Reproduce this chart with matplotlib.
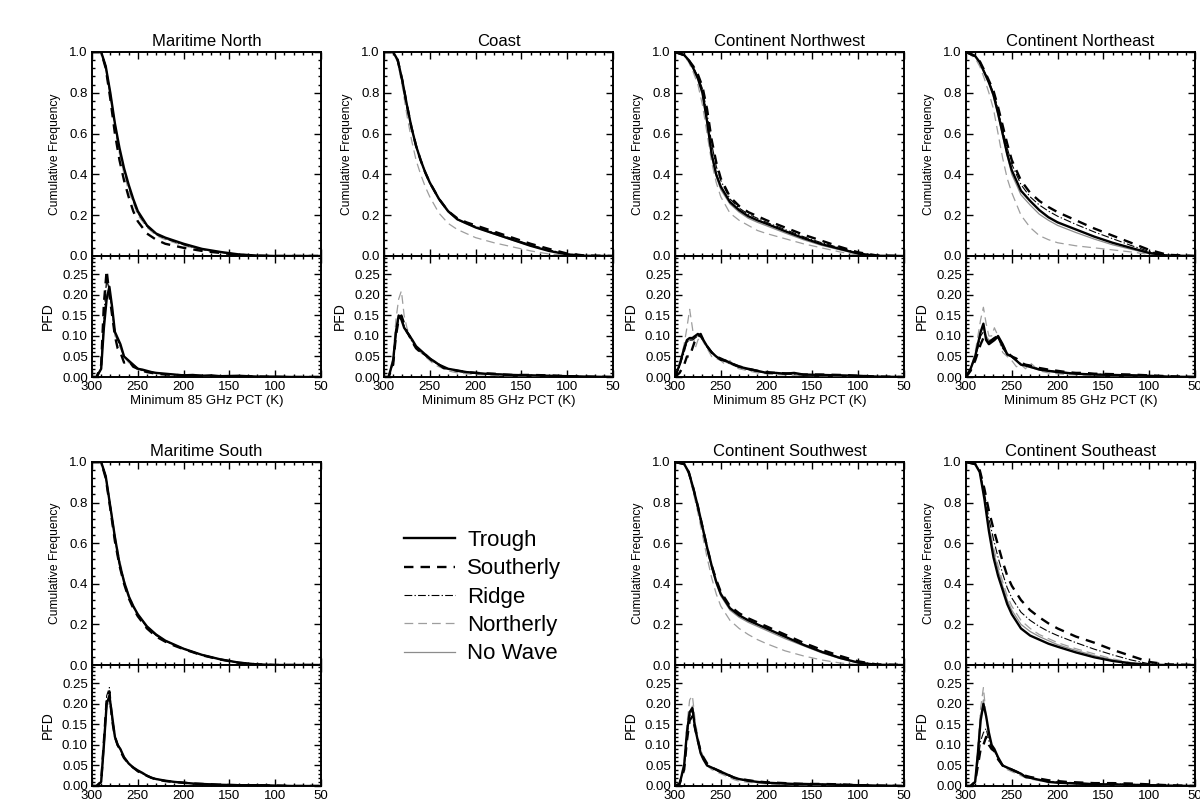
import numpy as np
import matplotlib.pyplot as plt
from matplotlib.ticker import MultipleLocator, FormatStrFormatter
from matplotlib.lines import Line2D

plt.rcParams['font.family'] = ['Liberation Sans', 'DejaVu Sans']

series_names = ["Trough", "Southerly", "Ridge", "Northerly", "No Wave"]

# temperature grids (K) for the cumulative and frequency curves
cdf_temp = [300, 290, 285, 280, 275, 270, 265, 260, 255, 250, 240, 230,
            220, 210, 200, 180, 160, 140, 120, 100, 80, 50]
pfd_temp = [300, 295, 290, 287, 284, 281, 278, 275, 272, 269, 265, 260,
            255, 250, 245, 240, 235, 230, 220, 210, 200, 190, 180, 170,
            160, 140, 120, 100, 80, 50]

# order of rows: Trough, Southerly, Ridge, Northerly, No Wave
cdf_maritime_north = [
    [1, 1, 0.93, 0.80, 0.65, 0.53, 0.43, 0.35, 0.28, 0.22, 0.15, 0.11, 0.09, 0.075, 0.06, 0.035, 0.02, 0.008, 0.002, 0, 0, 0],
    [1, 1, 0.92, 0.77, 0.60, 0.47, 0.37, 0.29, 0.22, 0.17, 0.11, 0.08, 0.06, 0.05, 0.04, 0.025, 0.015, 0.006, 0.001, 0, 0, 0],
    [1, 1, 0.93, 0.79, 0.64, 0.52, 0.42, 0.34, 0.27, 0.21, 0.145, 0.105, 0.085, 0.07, 0.055, 0.032, 0.018, 0.007, 0.002, 0, 0, 0],
    [1, 1, 0.92, 0.78, 0.62, 0.50, 0.40, 0.32, 0.26, 0.20, 0.14, 0.10, 0.08, 0.065, 0.05, 0.03, 0.016, 0.006, 0.001, 0, 0, 0],
    [1, 1, 0.93, 0.80, 0.65, 0.52, 0.42, 0.34, 0.27, 0.21, 0.15, 0.11, 0.085, 0.07, 0.055, 0.032, 0.018, 0.007, 0.002, 0, 0, 0],
]
pfd_maritime_north = [
    [0, 0, 0.02, 0.12, 0.19, 0.22, 0.17, 0.11, 0.095, 0.08, 0.05, 0.04, 0.03, 0.02, 0.018, 0.015, 0.012, 0.01, 0.008, 0.006, 0.004, 0.005, 0.003, 0.004, 0.002, 0.003, 0.001, 0.001, 0, 0],
    [0, 0, 0.03, 0.18, 0.26, 0.20, 0.15, 0.10, 0.07, 0.06, 0.035, 0.04, 0.025, 0.02, 0.015, 0.012, 0.01, 0.008, 0.006, 0.005, 0.004, 0.003, 0.003, 0.002, 0.002, 0.002, 0.001, 0, 0, 0],
    [0, 0, 0.02, 0.15, 0.24, 0.21, 0.16, 0.11, 0.09, 0.075, 0.05, 0.04, 0.028, 0.02, 0.016, 0.014, 0.012, 0.01, 0.007, 0.006, 0.005, 0.004, 0.003, 0.003, 0.002, 0.002, 0.001, 0.001, 0, 0],
    [0, 0, 0.015, 0.13, 0.23, 0.22, 0.16, 0.10, 0.09, 0.07, 0.05, 0.035, 0.03, 0.022, 0.015, 0.012, 0.01, 0.01, 0.007, 0.005, 0.004, 0.004, 0.002, 0.003, 0.002, 0.002, 0.001, 0, 0, 0],
    [0, 0, 0.02, 0.14, 0.20, 0.21, 0.17, 0.11, 0.09, 0.08, 0.05, 0.04, 0.03, 0.021, 0.017, 0.014, 0.012, 0.01, 0.008, 0.006, 0.005, 0.004, 0.003, 0.003, 0.002, 0.002, 0.001, 0.001, 0, 0],
]

cdf_coast = [
    [1, 1, 0.96, 0.86, 0.74, 0.63, 0.54, 0.47, 0.41, 0.36, 0.28, 0.22, 0.18, 0.16, 0.14, 0.11, 0.08, 0.05, 0.025, 0.008, 0.001, 0],
    [1, 1, 0.96, 0.86, 0.74, 0.63, 0.54, 0.47, 0.41, 0.36, 0.28, 0.22, 0.185, 0.165, 0.15, 0.12, 0.09, 0.06, 0.035, 0.012, 0.002, 0],
    [1, 1, 0.96, 0.86, 0.74, 0.63, 0.54, 0.47, 0.41, 0.36, 0.28, 0.22, 0.18, 0.16, 0.145, 0.115, 0.085, 0.055, 0.03, 0.01, 0.001, 0],
    [1, 1, 0.95, 0.83, 0.69, 0.57, 0.47, 0.40, 0.34, 0.29, 0.21, 0.16, 0.13, 0.11, 0.09, 0.065, 0.045, 0.025, 0.01, 0.003, 0, 0],
    [1, 1, 0.96, 0.86, 0.74, 0.63, 0.54, 0.47, 0.41, 0.355, 0.275, 0.215, 0.178, 0.157, 0.14, 0.108, 0.078, 0.05, 0.025, 0.008, 0.001, 0],
]
pfd_coast = [
    [0, 0, 0.04, 0.11, 0.15, 0.14, 0.12, 0.11, 0.10, 0.09, 0.075, 0.065, 0.055, 0.045, 0.038, 0.03, 0.025, 0.02, 0.016, 0.012, 0.01, 0.008, 0.007, 0.006, 0.005, 0.004, 0.003, 0.002, 0.001, 0],
    [0, 0, 0.03, 0.10, 0.14, 0.15, 0.13, 0.11, 0.10, 0.085, 0.07, 0.06, 0.055, 0.045, 0.035, 0.03, 0.022, 0.02, 0.015, 0.012, 0.01, 0.009, 0.008, 0.006, 0.005, 0.005, 0.004, 0.002, 0.001, 0],
    [0, 0, 0.035, 0.10, 0.145, 0.14, 0.125, 0.11, 0.095, 0.085, 0.072, 0.06, 0.052, 0.043, 0.036, 0.03, 0.024, 0.02, 0.015, 0.012, 0.009, 0.008, 0.007, 0.006, 0.005, 0.004, 0.003, 0.002, 0.001, 0],
    [0, 0, 0.05, 0.14, 0.19, 0.21, 0.15, 0.12, 0.10, 0.09, 0.075, 0.06, 0.05, 0.04, 0.03, 0.025, 0.02, 0.015, 0.01, 0.008, 0.006, 0.005, 0.004, 0.003, 0.003, 0.002, 0.001, 0.001, 0, 0],
    [0, 0, 0.04, 0.11, 0.15, 0.145, 0.12, 0.11, 0.10, 0.088, 0.073, 0.063, 0.054, 0.044, 0.037, 0.03, 0.024, 0.02, 0.015, 0.012, 0.01, 0.008, 0.007, 0.006, 0.005, 0.004, 0.003, 0.002, 0.001, 0],
]

cdf_continent_nw = [
    [1, 0.985, 0.96, 0.92, 0.87, 0.80, 0.66, 0.50, 0.40, 0.34, 0.265, 0.225, 0.195, 0.175, 0.158, 0.122, 0.088, 0.058, 0.035, 0.012, 0.001, 0],
    [1, 0.985, 0.96, 0.93, 0.89, 0.83, 0.72, 0.57, 0.46, 0.38, 0.29, 0.245, 0.215, 0.195, 0.175, 0.14, 0.105, 0.075, 0.045, 0.018, 0.003, 0],
    [1, 0.985, 0.96, 0.925, 0.88, 0.82, 0.70, 0.55, 0.44, 0.37, 0.28, 0.235, 0.205, 0.185, 0.165, 0.13, 0.095, 0.065, 0.04, 0.015, 0.002, 0],
    [1, 0.98, 0.95, 0.90, 0.84, 0.74, 0.60, 0.46, 0.36, 0.29, 0.21, 0.175, 0.15, 0.125, 0.11, 0.085, 0.06, 0.04, 0.02, 0.004, 0, 0],
    [1, 0.985, 0.96, 0.92, 0.87, 0.79, 0.65, 0.49, 0.39, 0.325, 0.255, 0.215, 0.185, 0.165, 0.148, 0.113, 0.08, 0.052, 0.03, 0.01, 0.001, 0],
]
pfd_continent_nw = [
    [0, 0.03, 0.07, 0.09, 0.095, 0.095, 0.10, 0.105, 0.10, 0.09, 0.075, 0.06, 0.05, 0.042, 0.04, 0.035, 0.03, 0.025, 0.02, 0.015, 0.01, 0.01, 0.008, 0.01, 0.006, 0.005, 0.004, 0.003, 0.001, 0],
    [0, 0.01, 0.03, 0.05, 0.05, 0.07, 0.09, 0.10, 0.105, 0.09, 0.075, 0.06, 0.05, 0.045, 0.04, 0.035, 0.03, 0.026, 0.02, 0.015, 0.012, 0.01, 0.009, 0.008, 0.006, 0.006, 0.005, 0.003, 0.001, 0],
    [0, 0.025, 0.06, 0.085, 0.09, 0.09, 0.095, 0.10, 0.098, 0.09, 0.075, 0.062, 0.05, 0.042, 0.038, 0.033, 0.028, 0.024, 0.018, 0.014, 0.01, 0.009, 0.008, 0.007, 0.006, 0.005, 0.004, 0.003, 0.001, 0],
    [0, 0.03, 0.08, 0.12, 0.165, 0.12, 0.07, 0.09, 0.10, 0.085, 0.07, 0.05, 0.045, 0.04, 0.03, 0.04, 0.025, 0.02, 0.015, 0.01, 0.008, 0.006, 0.005, 0.004, 0.004, 0.003, 0.002, 0.001, 0, 0],
    [0, 0.03, 0.065, 0.085, 0.09, 0.092, 0.098, 0.10, 0.097, 0.088, 0.074, 0.06, 0.05, 0.042, 0.037, 0.032, 0.027, 0.023, 0.018, 0.013, 0.01, 0.009, 0.007, 0.007, 0.005, 0.004, 0.003, 0.002, 0.001, 0],
]

cdf_continent_ne = [
    [1, 0.98, 0.95, 0.90, 0.85, 0.79, 0.70, 0.60, 0.50, 0.42, 0.32, 0.27, 0.225, 0.19, 0.165, 0.13, 0.095, 0.065, 0.04, 0.015, 0.002, 0],
    [1, 0.98, 0.955, 0.91, 0.86, 0.81, 0.73, 0.64, 0.55, 0.47, 0.37, 0.31, 0.27, 0.24, 0.215, 0.175, 0.135, 0.10, 0.065, 0.03, 0.006, 0],
    [1, 0.98, 0.95, 0.905, 0.855, 0.80, 0.72, 0.62, 0.53, 0.45, 0.35, 0.29, 0.25, 0.22, 0.195, 0.155, 0.118, 0.085, 0.052, 0.022, 0.004, 0],
    [1, 0.97, 0.93, 0.87, 0.80, 0.72, 0.60, 0.48, 0.38, 0.31, 0.20, 0.14, 0.10, 0.08, 0.065, 0.05, 0.04, 0.03, 0.02, 0.008, 0.001, 0],
    [1, 0.98, 0.95, 0.90, 0.85, 0.78, 0.69, 0.59, 0.49, 0.40, 0.30, 0.25, 0.205, 0.175, 0.15, 0.115, 0.083, 0.055, 0.033, 0.012, 0.001, 0],
]
pfd_continent_ne = [
    [0, 0.02, 0.05, 0.08, 0.11, 0.13, 0.09, 0.08, 0.085, 0.09, 0.10, 0.08, 0.055, 0.05, 0.04, 0.03, 0.028, 0.025, 0.018, 0.015, 0.012, 0.01, 0.008, 0.007, 0.006, 0.005, 0.004, 0.003, 0.001, 0],
    [0, 0.015, 0.04, 0.06, 0.08, 0.095, 0.09, 0.085, 0.09, 0.095, 0.10, 0.075, 0.06, 0.05, 0.045, 0.035, 0.03, 0.028, 0.022, 0.018, 0.015, 0.012, 0.01, 0.01, 0.008, 0.007, 0.006, 0.004, 0.002, 0],
    [0, 0.02, 0.05, 0.07, 0.10, 0.11, 0.095, 0.085, 0.09, 0.095, 0.095, 0.07, 0.055, 0.048, 0.04, 0.032, 0.028, 0.025, 0.02, 0.016, 0.013, 0.011, 0.009, 0.008, 0.007, 0.006, 0.005, 0.003, 0.001, 0],
    [0, 0.02, 0.06, 0.10, 0.14, 0.17, 0.13, 0.10, 0.10, 0.12, 0.10, 0.06, 0.05, 0.04, 0.025, 0.03, 0.02, 0.035, 0.015, 0.01, 0.008, 0.006, 0.005, 0.004, 0.004, 0.003, 0.003, 0.002, 0.001, 0],
    [0, 0.02, 0.05, 0.08, 0.11, 0.12, 0.10, 0.09, 0.09, 0.09, 0.095, 0.08, 0.058, 0.05, 0.04, 0.032, 0.027, 0.023, 0.018, 0.014, 0.011, 0.009, 0.008, 0.007, 0.006, 0.005, 0.004, 0.003, 0.001, 0],
]

cdf_maritime_south = [
    [1, 1, 0.93, 0.78, 0.63, 0.50, 0.41, 0.34, 0.29, 0.25, 0.19, 0.15, 0.12, 0.10, 0.08, 0.05, 0.028, 0.012, 0.003, 0, 0, 0],
    [1, 1, 0.92, 0.77, 0.61, 0.49, 0.40, 0.33, 0.28, 0.24, 0.18, 0.14, 0.115, 0.095, 0.078, 0.048, 0.027, 0.011, 0.003, 0, 0, 0],
    [1, 1, 0.93, 0.78, 0.62, 0.50, 0.41, 0.34, 0.29, 0.245, 0.185, 0.145, 0.118, 0.098, 0.08, 0.05, 0.028, 0.012, 0.003, 0, 0, 0],
    [1, 1, 0.93, 0.79, 0.64, 0.52, 0.42, 0.35, 0.295, 0.25, 0.19, 0.15, 0.12, 0.10, 0.082, 0.05, 0.027, 0.011, 0.002, 0, 0, 0],
    [1, 1, 0.93, 0.78, 0.63, 0.50, 0.41, 0.34, 0.29, 0.25, 0.19, 0.15, 0.12, 0.10, 0.08, 0.05, 0.028, 0.012, 0.003, 0, 0, 0],
]
pfd_maritime_south = [
    [0, 0, 0.01, 0.10, 0.20, 0.22, 0.17, 0.12, 0.10, 0.09, 0.07, 0.055, 0.045, 0.038, 0.032, 0.025, 0.02, 0.017, 0.013, 0.01, 0.008, 0.006, 0.005, 0.004, 0.003, 0.002, 0.002, 0.001, 0, 0],
    [0, 0, 0.01, 0.11, 0.21, 0.23, 0.16, 0.12, 0.10, 0.085, 0.068, 0.055, 0.045, 0.036, 0.03, 0.025, 0.02, 0.016, 0.012, 0.01, 0.008, 0.006, 0.005, 0.004, 0.003, 0.002, 0.002, 0.001, 0, 0],
    [0, 0, 0.01, 0.10, 0.22, 0.24, 0.16, 0.12, 0.10, 0.09, 0.07, 0.055, 0.044, 0.037, 0.031, 0.025, 0.02, 0.017, 0.013, 0.01, 0.008, 0.006, 0.005, 0.004, 0.003, 0.002, 0.002, 0.001, 0, 0],
    [0, 0, 0.015, 0.12, 0.20, 0.20, 0.17, 0.12, 0.10, 0.09, 0.07, 0.055, 0.045, 0.035, 0.03, 0.024, 0.02, 0.016, 0.012, 0.009, 0.007, 0.006, 0.005, 0.004, 0.003, 0.002, 0.001, 0.001, 0, 0],
    [0, 0, 0.01, 0.10, 0.20, 0.22, 0.17, 0.12, 0.10, 0.09, 0.07, 0.055, 0.045, 0.037, 0.031, 0.025, 0.02, 0.017, 0.013, 0.01, 0.008, 0.006, 0.005, 0.004, 0.003, 0.002, 0.002, 0.001, 0, 0],
]

cdf_continent_sw = [
    [1, 0.99, 0.95, 0.87, 0.78, 0.68, 0.58, 0.49, 0.41, 0.35, 0.28, 0.245, 0.22, 0.20, 0.18, 0.14, 0.10, 0.065, 0.035, 0.012, 0.001, 0],
    [1, 0.99, 0.95, 0.87, 0.78, 0.68, 0.58, 0.49, 0.42, 0.36, 0.29, 0.255, 0.23, 0.21, 0.19, 0.15, 0.11, 0.075, 0.045, 0.018, 0.003, 0],
    [1, 0.99, 0.95, 0.87, 0.78, 0.68, 0.58, 0.49, 0.41, 0.35, 0.28, 0.245, 0.22, 0.20, 0.18, 0.14, 0.10, 0.067, 0.037, 0.013, 0.001, 0],
    [1, 0.99, 0.94, 0.85, 0.75, 0.64, 0.53, 0.43, 0.35, 0.29, 0.22, 0.18, 0.15, 0.125, 0.105, 0.07, 0.045, 0.025, 0.01, 0.002, 0, 0],
    [1, 0.99, 0.95, 0.87, 0.77, 0.67, 0.57, 0.48, 0.40, 0.34, 0.27, 0.235, 0.21, 0.19, 0.17, 0.13, 0.095, 0.06, 0.032, 0.01, 0.001, 0],
]
pfd_continent_sw = [
    [0, 0.005, 0.05, 0.13, 0.18, 0.19, 0.14, 0.11, 0.08, 0.065, 0.05, 0.045, 0.04, 0.035, 0.03, 0.025, 0.02, 0.017, 0.013, 0.01, 0.008, 0.007, 0.006, 0.005, 0.005, 0.004, 0.003, 0.002, 0.001, 0],
    [0, 0.005, 0.04, 0.11, 0.16, 0.17, 0.14, 0.11, 0.085, 0.07, 0.055, 0.045, 0.04, 0.035, 0.03, 0.025, 0.02, 0.018, 0.014, 0.011, 0.009, 0.008, 0.007, 0.006, 0.005, 0.005, 0.004, 0.002, 0.001, 0],
    [0, 0.005, 0.05, 0.12, 0.17, 0.185, 0.14, 0.11, 0.08, 0.065, 0.05, 0.045, 0.038, 0.033, 0.028, 0.024, 0.02, 0.016, 0.012, 0.01, 0.008, 0.007, 0.006, 0.005, 0.004, 0.004, 0.003, 0.002, 0.001, 0],
    [0, 0.01, 0.06, 0.15, 0.21, 0.22, 0.16, 0.12, 0.09, 0.07, 0.05, 0.04, 0.035, 0.03, 0.025, 0.02, 0.015, 0.012, 0.009, 0.007, 0.005, 0.004, 0.004, 0.003, 0.003, 0.002, 0.002, 0.001, 0, 0],
    [0, 0.005, 0.05, 0.13, 0.18, 0.195, 0.145, 0.11, 0.08, 0.065, 0.05, 0.045, 0.04, 0.034, 0.029, 0.024, 0.02, 0.016, 0.012, 0.01, 0.008, 0.007, 0.006, 0.005, 0.004, 0.004, 0.003, 0.002, 0.001, 0],
]

cdf_continent_se = [
    [1, 0.99, 0.95, 0.82, 0.66, 0.53, 0.44, 0.37, 0.30, 0.25, 0.18, 0.145, 0.125, 0.105, 0.09, 0.062, 0.038, 0.02, 0.008, 0.001, 0, 0],
    [1, 0.99, 0.96, 0.87, 0.76, 0.67, 0.59, 0.51, 0.44, 0.39, 0.32, 0.27, 0.235, 0.205, 0.18, 0.14, 0.11, 0.075, 0.045, 0.015, 0.003, 0],
    [1, 0.99, 0.955, 0.85, 0.72, 0.62, 0.53, 0.45, 0.38, 0.33, 0.26, 0.22, 0.19, 0.165, 0.145, 0.11, 0.078, 0.05, 0.025, 0.006, 0, 0],
    [1, 0.99, 0.95, 0.83, 0.69, 0.58, 0.49, 0.41, 0.34, 0.29, 0.22, 0.18, 0.15, 0.13, 0.11, 0.08, 0.055, 0.03, 0.012, 0.002, 0, 0],
    [1, 0.99, 0.95, 0.83, 0.68, 0.56, 0.47, 0.39, 0.32, 0.27, 0.20, 0.165, 0.14, 0.12, 0.10, 0.072, 0.046, 0.026, 0.01, 0.002, 0, 0],
]
pfd_continent_se = [
    [0, 0, 0.01, 0.08, 0.16, 0.20, 0.17, 0.13, 0.10, 0.09, 0.07, 0.05, 0.045, 0.04, 0.035, 0.03, 0.022, 0.02, 0.015, 0.01, 0.008, 0.007, 0.006, 0.005, 0.004, 0.004, 0.003, 0.002, 0.001, 0],
    [0, 0, 0.01, 0.05, 0.09, 0.10, 0.12, 0.10, 0.09, 0.085, 0.065, 0.05, 0.045, 0.04, 0.035, 0.03, 0.025, 0.022, 0.018, 0.014, 0.012, 0.01, 0.009, 0.008, 0.007, 0.007, 0.006, 0.004, 0.002, 0],
    [0, 0, 0.01, 0.06, 0.11, 0.13, 0.14, 0.11, 0.095, 0.085, 0.068, 0.05, 0.045, 0.04, 0.035, 0.03, 0.024, 0.02, 0.016, 0.012, 0.01, 0.009, 0.008, 0.007, 0.006, 0.005, 0.004, 0.003, 0.001, 0],
    [0, 0, 0.015, 0.10, 0.19, 0.24, 0.17, 0.12, 0.10, 0.085, 0.065, 0.048, 0.04, 0.035, 0.03, 0.025, 0.02, 0.017, 0.013, 0.01, 0.008, 0.006, 0.005, 0.004, 0.004, 0.003, 0.002, 0.001, 0, 0],
    [0, 0, 0.012, 0.09, 0.17, 0.21, 0.17, 0.12, 0.10, 0.088, 0.068, 0.05, 0.043, 0.038, 0.033, 0.028, 0.022, 0.019, 0.014, 0.01, 0.008, 0.007, 0.006, 0.005, 0.004, 0.004, 0.003, 0.002, 0.001, 0],
]

panel_titles = ["Maritime North", "Coast", "Continent Northwest", "Continent Northeast",
                "Maritime South", "Continent Southwest", "Continent Southeast"]

styles = [
    dict(color='black', lw=1.7, ls='-', zorder=6),
    dict(color='black', lw=1.7, ls=(0, (4, 3)), zorder=5),
    dict(color='black', lw=0.8, ls=(0, (7, 2, 1.2, 2)), zorder=4),
    dict(color='0.62', lw=0.9, ls=(0, (7, 4)), zorder=3),
    dict(color='0.55', lw=0.9, ls='-', zorder=2),
]

W, H = 1200, 806
fig = plt.figure(figsize=(W / 100, H / 100), dpi=100)


def px_axes(x0, y0, x1, y1):
    return fig.add_axes([x0 / W, 1 - y1 / H, (x1 - x0) / W, (y1 - y0) / H])


def style_axis(ax):
    ax.tick_params(which='both', direction='in', top=True, right=True,
                   labelsize=9.5, width=1, pad=3)
    ax.tick_params(which='major', length=5)
    ax.tick_params(which='minor', length=2.5)
    for s in ax.spines.values():
        s.set_linewidth(1.4)
    ax.set_xlim(300, 50)
    ax.xaxis.set_major_locator(MultipleLocator(50))
    ax.xaxis.set_minor_locator(MultipleLocator(10))


col_left = [92, 384, 675, 966]
col_width = 229
# (cdf top, cdf bottom, pfd bottom) for each row
row_edges = [(52, 256, 377), (462, 665, 786)]

panels = [
    (panel_titles[0], 0, 0, cdf_maritime_north, pfd_maritime_north),
    (panel_titles[1], 0, 1, cdf_coast, pfd_coast),
    (panel_titles[2], 0, 2, cdf_continent_nw, pfd_continent_nw),
    (panel_titles[3], 0, 3, cdf_continent_ne, pfd_continent_ne),
    (panel_titles[4], 1, 0, cdf_maritime_south, pfd_maritime_south),
    (panel_titles[5], 1, 2, cdf_continent_sw, pfd_continent_sw),
    (panel_titles[6], 1, 3, cdf_continent_se, pfd_continent_se),
]

for title, row, col, cdf, pfd in panels:
    top, mid, bot = row_edges[row]
    x0 = col_left[col]
    ax1 = px_axes(x0, top, x0 + col_width, mid)
    ax2 = px_axes(x0, mid, x0 + col_width, bot)

    for vals, st in zip(cdf, styles):
        ax1.plot(cdf_temp, vals, **st)
    for vals, st in zip(pfd, styles):
        ax2.plot(pfd_temp, vals, **st)

    style_axis(ax1)
    ax1.set_ylim(0, 1)
    ax1.yaxis.set_major_locator(MultipleLocator(0.2))
    ax1.yaxis.set_minor_locator(MultipleLocator(0.04))
    ax1.yaxis.set_major_formatter(FormatStrFormatter('%.1f'))
    ax1.tick_params(labelbottom=False)
    ax1.set_title(title, fontsize=12, pad=4)
    ax1.set_ylabel("Cumulative Frequency", fontsize=8.7, labelpad=6)

    style_axis(ax2)
    ax2.set_ylim(0, 0.295)
    ax2.yaxis.set_major_locator(MultipleLocator(0.05))
    ax2.yaxis.set_minor_locator(MultipleLocator(0.01))
    ax2.yaxis.set_major_formatter(FormatStrFormatter('%.2f'))
    ax2.set_ylabel("PFD", fontsize=10, labelpad=5)
    if row == 0:
        ax2.set_xlabel("Minimum 85 GHz PCT (K)", fontsize=9.5, labelpad=1)

legend_handles = [Line2D([], [], color=st['color'], lw=st['lw'], ls=st['ls']) for st in styles]
fig.legend(legend_handles, series_names, loc='upper left',
           bbox_to_anchor=(404 / W, 1 - 530 / H), frameon=False, fontsize=16,
           handlelength=2.3, handletextpad=0.55, labelspacing=0.33,
           borderpad=0, borderaxespad=0)

fig.savefig("out.png", dpi=100)
